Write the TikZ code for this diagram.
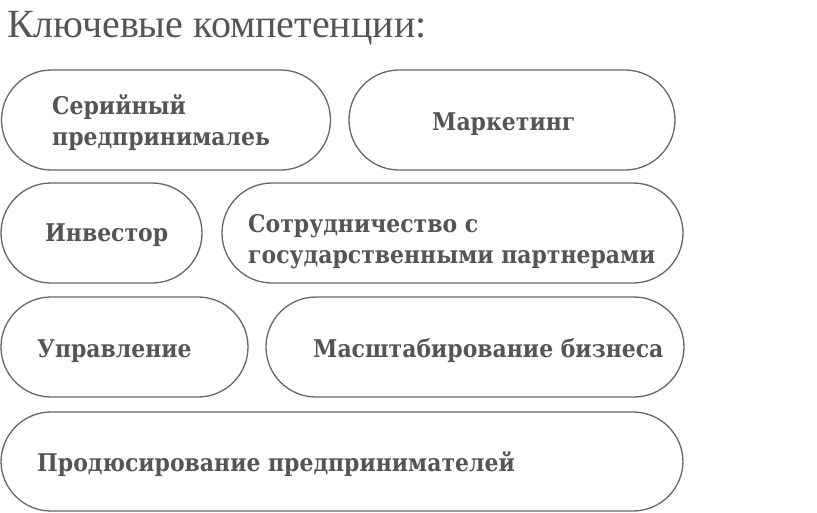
\documentclass[tikz,border=0pt]{standalone}
\usepackage{fontspec}
\setmainfont{DejaVu Serif Condensed}
\newfontfamily\titlefont{Liberation Serif}
\definecolor{txt}{HTML}{555555}
\definecolor{edge}{HTML}{666666}
\tikzset{
  pill/.style={draw=edge, line width=1.3pt, rounded corners=50pt, minimum height=100pt, inner sep=0pt},
  lbl/.style={text=txt, font=\bfseries\fontsize{24.4}{31}\selectfont, align=left, inner sep=0pt, anchor=base west},
  ttl/.style={text=txt, font=\titlefont\fontsize{40}{42}\selectfont, inner sep=0pt, anchor=base west}
}
\begin{document}
\begin{tikzpicture}[x=1pt,y=-1pt]
\useasboundingbox (0,0) rectangle (817,512);
\node[ttl] (title) at (7,37) {Ключевые компетенции:};
\node[pill, minimum width=329pt] (b1) at (166,120) {};
\node[pill, minimum width=326pt] (b2) at (512,120) {};
\node[pill, minimum width=201pt] (b3) at (101.5,233) {};
\node[pill, minimum width=461pt] (b4) at (452.5,233) {};
\node[pill, minimum width=247pt] (b5) at (124.5,347) {};
\node[pill, minimum width=418pt] (b6) at (475,347) {};
\node[pill, minimum width=682pt, minimum height=99pt] (b7) at (342,461.5) {};
\node[lbl] (t1) at (52,145) {Серийный\\предпринималеь};
\node[lbl] (t2) at (432,130) {Маркетинг};
\node[lbl] (t3) at (45,241) {Инвестор};
\node[lbl] (t4) at (248,263) {Сотрудничество с\\государственными партнерами};
\node[lbl] (t5) at (37,357) {Управление};
\node[lbl] (t6) at (313,357) {Масштабирование бизнеса};
\node[lbl] (t7) at (37,471) {Продюсирование предпринимателей};
\end{tikzpicture}
\end{document}
